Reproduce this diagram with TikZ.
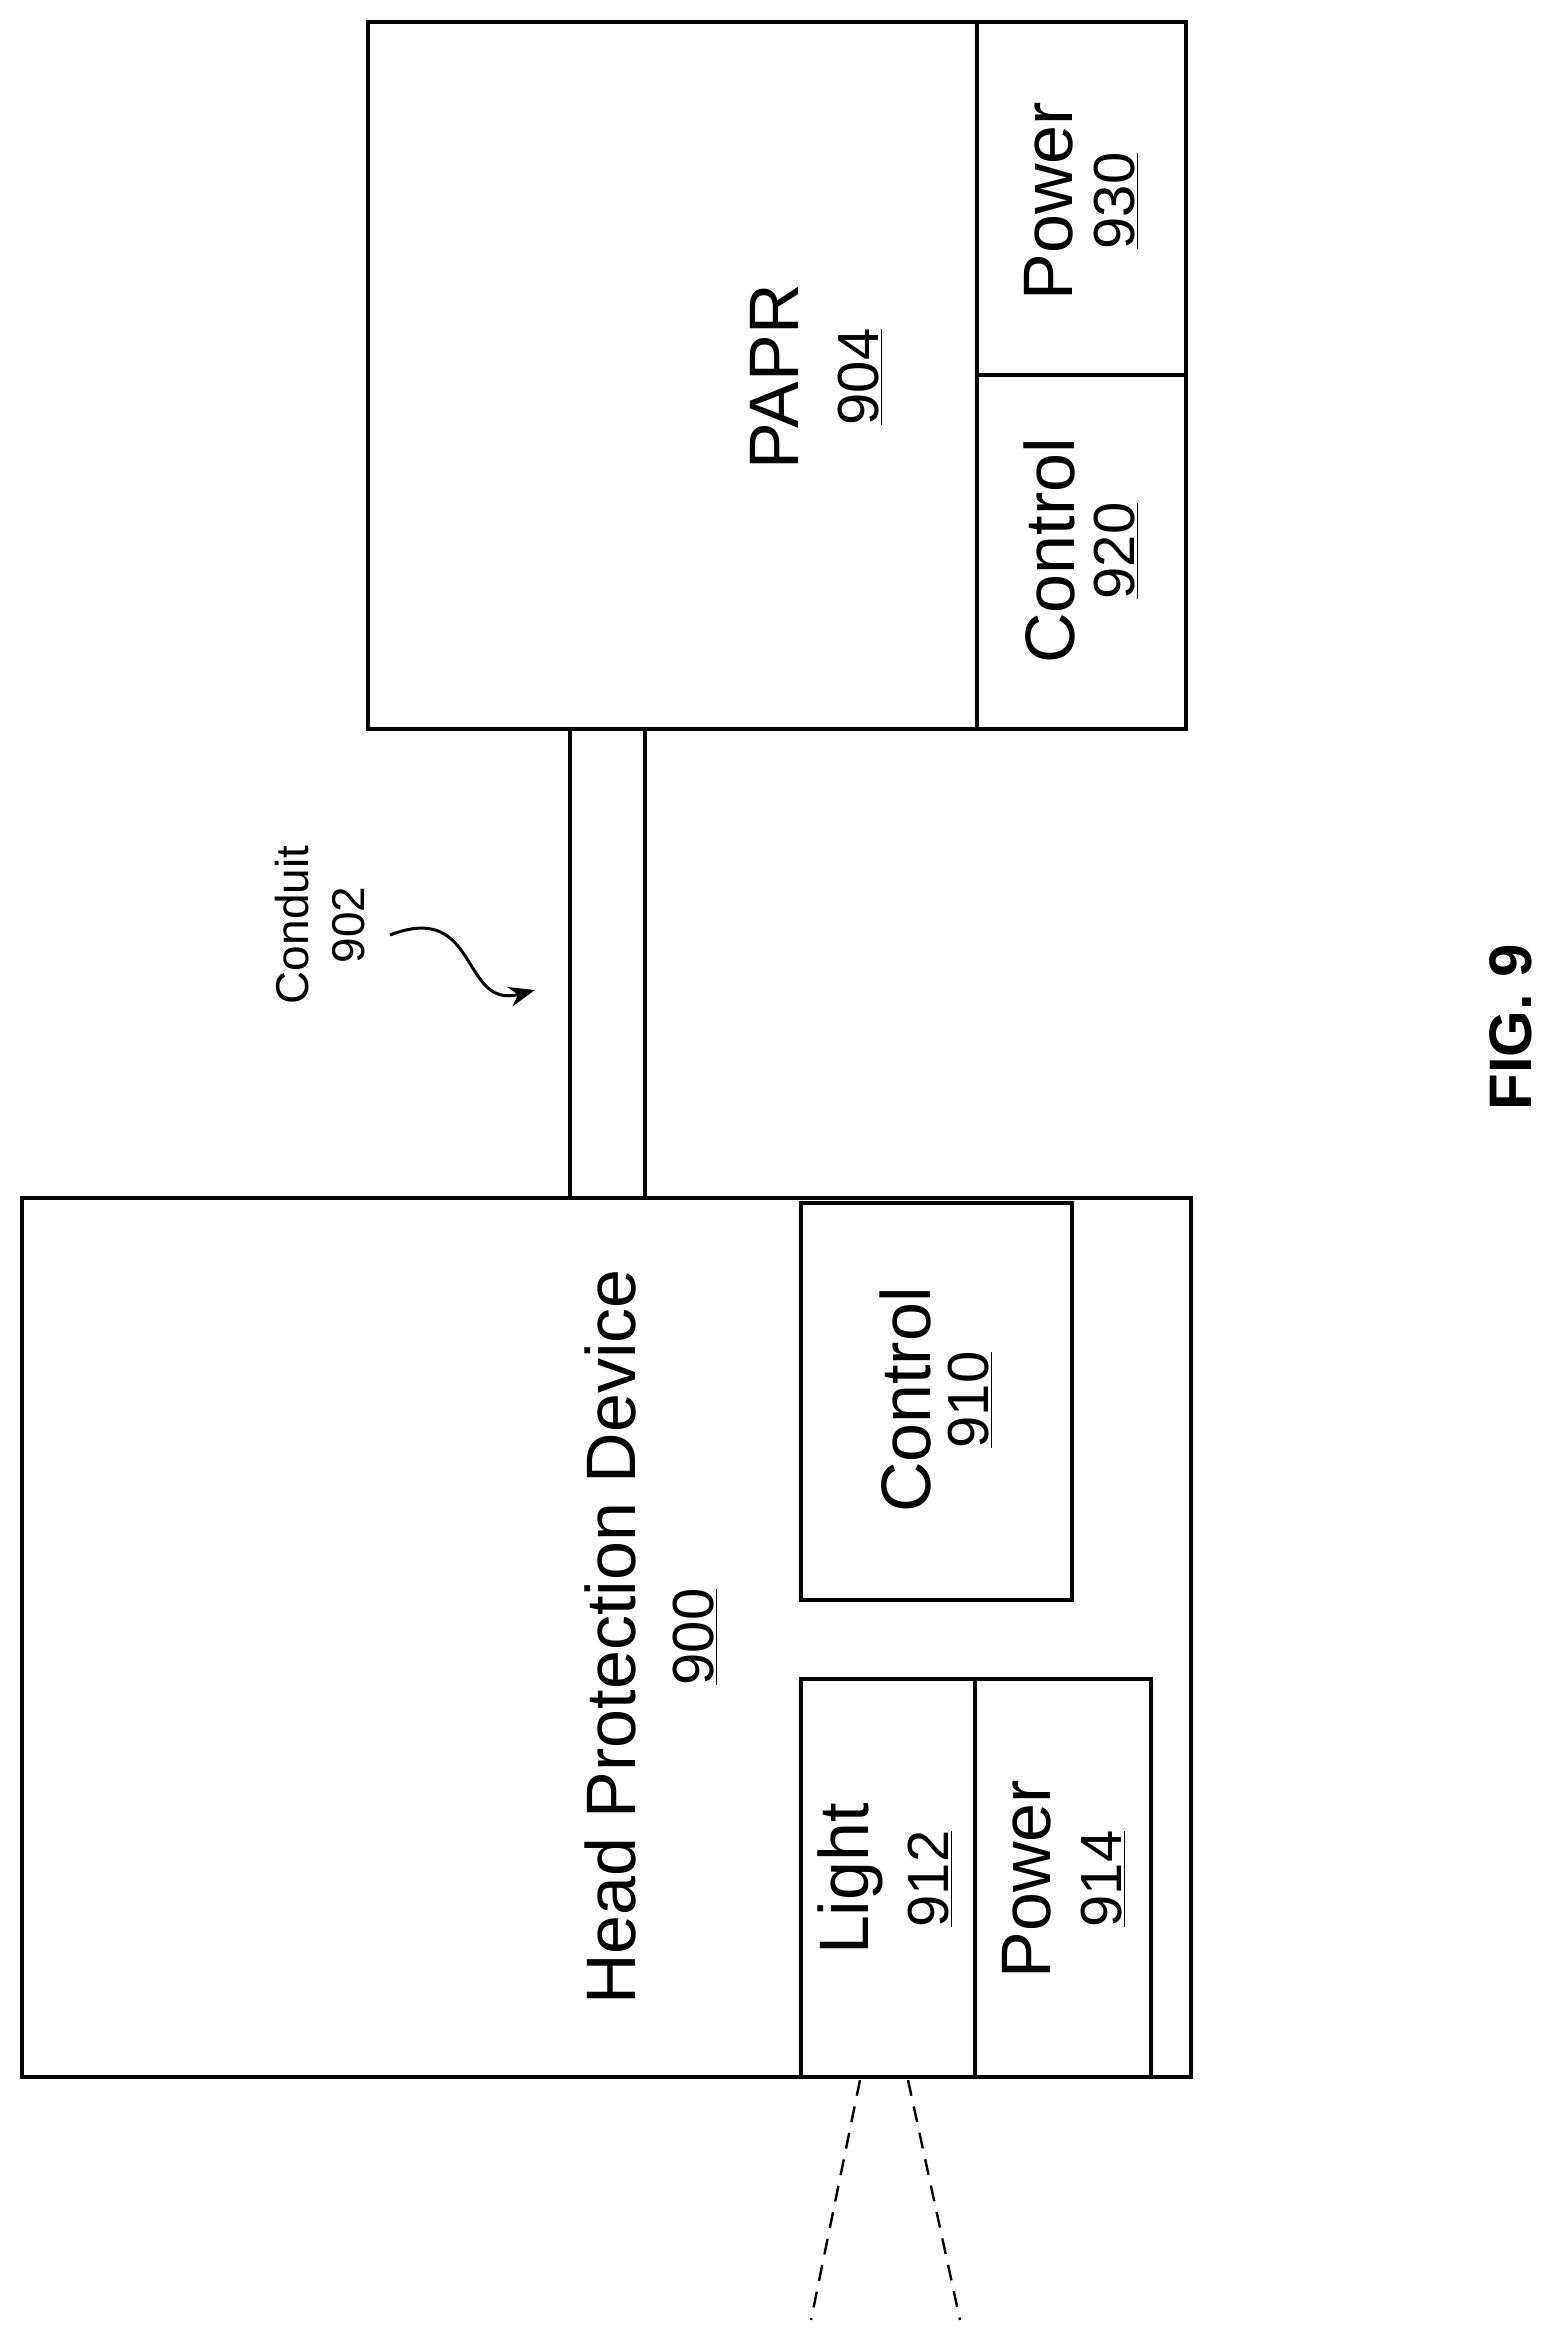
\documentclass[tikz,border=0pt]{standalone}
\usepackage{fontspec}
\setmainfont{Liberation Sans}
\usetikzlibrary{arrows.meta}
\begin{document}
\begin{tikzpicture}[x=1pt,y=-1pt,
  box/.style={draw,line width=3.2pt},
  lbl/.style={rotate=90,align=center,font=\fontsize{70}{74}\selectfont,inner sep=0},
  num/.style={rotate=90,font=\fontsize{58}{62}\selectfont,inner sep=0}]
\useasboundingbox (0,0) rectangle (1557,2340);
% head protection device
\draw[box] (22,1198) rectangle (1191,2077);
\draw[box] (801,1203) rectangle (1072,1600);
\draw[box] (801,1679) rectangle (975,2077);
\draw[box] (975,1679) rectangle (1151,2077);
\node[lbl] (hpd) at (610,1637) {Head Protection Device};
\node[num] (n900) at (695,1637) {\underline{900}};
\node[lbl] (ctl) at (905,1400) {Control};
\node[num] (n910) at (970,1400) {\underline{910}};
\node[lbl] (lt) at (850,1879) {Light};
\node[num] (n912) at (930,1879) {\underline{912}};
\node[lbl] (pw) at (1027,1879) {Power};
\node[num] (n914) at (1103,1879) {\underline{914}};
% PAPR
\draw[box] (368,22) rectangle (1186,729);
\draw[box] (977,22) -- (977,729);
\draw[box] (977,375) -- (1186,375);
\node[lbl] (papr) at (774,377) {PAPR};
\node[num] (n904) at (860,377) {\underline{904}};
\node[lbl] (ctl2) at (1049,551) {Control};
\node[num] (n920) at (1116,551) {\underline{920}};
\node[lbl] (pw2) at (1049,201) {Power};
\node[num] (n930) at (1116,201) {\underline{930}};
% conduit
\draw[box] (570,729) -- (570,1198);
\draw[box] (645,729) -- (645,1198);
\node[rotate=90,align=center,font=\fontsize{46}{56}\selectfont,inner sep=0] (cond) at (320,925) {Conduit\\902};
\coordinate (a0) at (390,935);
\coordinate (a1) at (535,990);
\draw[line width=3pt,-{Stealth[length=26pt,width=20pt]}] (a0) .. controls (480,900) and (460,1010) .. (a1);
% light beam
\draw[line width=2.4pt,dash pattern=on 16pt off 11pt] (860,2080) -- (811,2320);
\draw[line width=2.4pt,dash pattern=on 16pt off 11pt] (908,2080) -- (960,2320);
\node[rotate=90,font=\bfseries\fontsize{60}{64}\selectfont,inner sep=0] (fig) at (1511,1027) {FIG. 9};
\end{tikzpicture}
\end{document}
